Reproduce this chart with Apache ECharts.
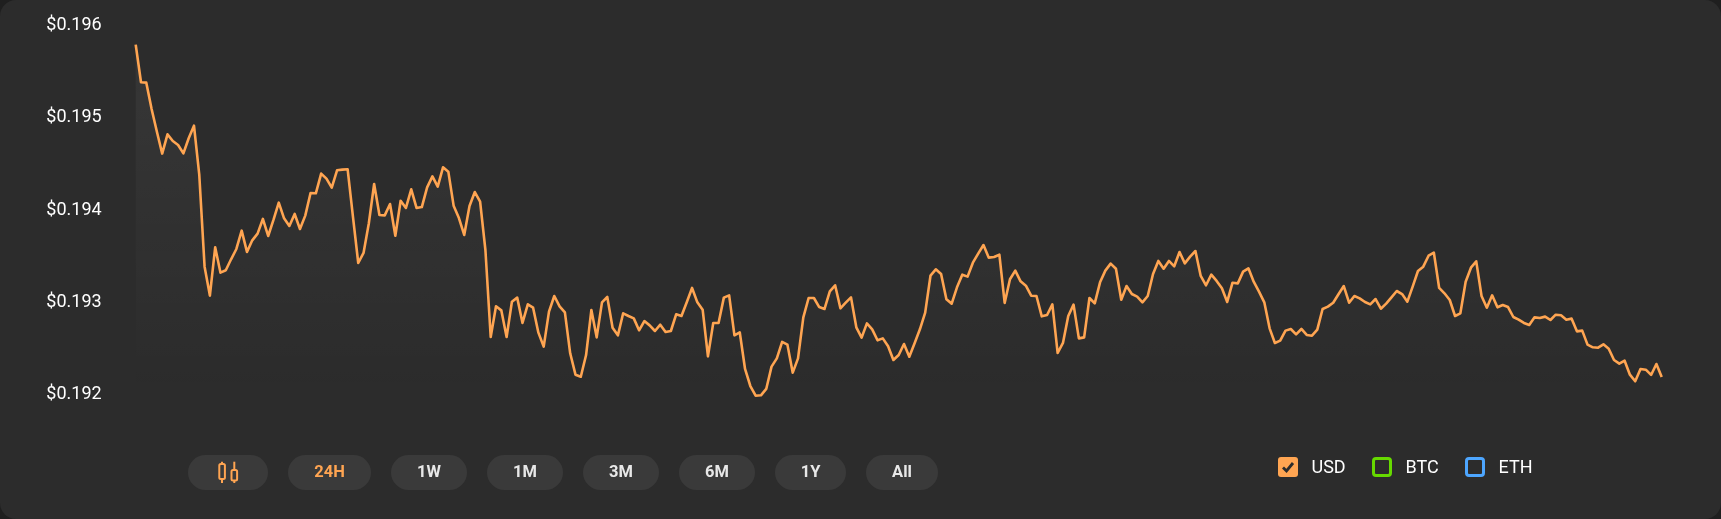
<!DOCTYPE html>
<html><head><meta charset="utf-8">
<style>
html,body{margin:0;padding:0;background:#1f1f1f;width:1721px;height:519px;overflow:hidden}
#c{width:1721px;height:519px;background:#2c2c2c;border-radius:16px;overflow:hidden}
</style>
<script src="https://cdn.jsdelivr.net/npm/echarts@6/dist/echarts.min.js"></script>
</head><body><div id="c"></div>
<script>
const pricesA = [195794,195386,195382,195096,194850,194612,194821,194749,194706,194615,194778,194915,194380,193385,193071,193595,193320,193346,193465,193577,193776,193545,193671,193743,193903,193718,193892,194080,193910,193827,193957,193794,193939,194185,194181,194395,194340,194243,194431,194438,194442,193928,193425,193534,193856,194282,193946,193942,194065];
const pricesB = [193721,194101,194022,194224,194022,194032,194246,194365,194253,194463,194416,194047,193913,193729,194043,194195,194090,193566,192622,192955,192911,192622,193005,193049,192774,192976,192940,192669,192517,192897,193067,192955,192889,192445,192213,192191,192426,192915,192618,192998,193056,192723,192640,192879,192850,192824,192694,192795];
const pricesC = [192748,192687,192756,192676,192687,192868,192850,192998,193154,192998,192918,192412,192774,192774,193049,193074,192640,192673,192275,192090,191985,191989,192058,192300,192390,192568,192539,192235,192390,192835,193045,193045,192947,192926,193117,193183,192933,192994,193052,192727,192615,192770,192705,192586,192607,192521,192372,192427];
const pricesD = [192546,192408,192553,192705,192886,193287,193356,193306,193031,192984,193161,193298,193277,193428,193526,193620,193483,193490,193515,192991,193248,193342,193226,193179,193070,193067,192846,192861,192976,192448,192557,192850,192973,192607,192618,193045,192987,193215,193342,193418,193363,193027,193175,193088,193060,192998,193067,193306];
const pricesE = [193447,193363,193447,193389,193544,193421,193494,193555,193284,193183,193298,193230,193150,193002,193211,193204,193331,193367,193222,193114,192998,192716,192557,192582,192691,192709,192651,192709,192644,192636,192702,192926,192951,192994,193085,193175,192994,193067,193041,193002,192976,193034,192929,192984,193052,193121,193088,193005];
const pricesF = [193168,193338,193385,193504,193537,193154,193096,193023,192850,192879,193222,193374,193443,193067,192940,193074,192944,192969,192947,192839,192810,192774,192752,192835,192828,192843,192806,192864,192857,192810,192821,192683,192691,192539,192510,192506,192542,192495,192372,192333,192365,192213,192141,192275,192267,192210,192329,192188];
const priceMicroUsd = [].concat(pricesA,pricesB,pricesC,pricesD,pricesE,pricesF);
const rangeButtons = ['24H','1W','1M','3M','6M','1Y','All'];
const legendItems = ['USD','BTC','ETH'];

const ORANGE='#ffa552', BTN='#3a3a3a', FF='Roboto, sans-serif';
const btnBoxes=[[288,371],[391,467],[487,563],[583,659],[679,755],[775,846],[866,938]];
const BY=455,BH=35;
const g=[];
g.push({type:'rect',shape:{x:188,y:BY,width:80,height:BH,r:17.5},style:{fill:BTN}});
[[222,461.7,483,219.3,464,5.6,15],[234.3,461.7,483,231.5,470,5.6,10.5]].forEach(a=>{
  g.push({type:'line',shape:{x1:a[0],y1:a[1],x2:a[0],y2:a[2]},style:{stroke:ORANGE,lineWidth:2}});
  g.push({type:'rect',shape:{x:a[3],y:a[4],width:a[5],height:a[6],r:1.5},style:{fill:BTN,stroke:ORANGE,lineWidth:2}});
});
rangeButtons.forEach((t,i)=>{
  const b=btnBoxes[i];
  g.push({type:'rect',shape:{x:b[0],y:BY,width:b[1]-b[0],height:BH,r:17.5},style:{fill:BTN}});
  g.push({type:'text',x:(b[0]+b[1])/2,y:BY+BH/2,style:{text:t,fill:i==0?ORANGE:'#e8e8e8',font:'700 16.5px '+FF,textAlign:'center',textVerticalAlign:'middle'}});
});
const legPos=[[1278,1311.5,ORANGE],[1372,1405.5,'#66d900'],[1465,1498.5,'#4da6ff']];
legendItems.forEach((t,i)=>{
  const p=legPos[i];
  if(i==0){
    g.push({type:'rect',shape:{x:p[0],y:457,width:20,height:20,r:3},style:{fill:p[2]}});
    g.push({type:'polyline',shape:{points:[[p[0]+5,467.5],[p[0]+8.5,471],[p[0]+15,463]]},style:{stroke:'#2c2c2c',lineWidth:2.8,fill:null}});
  } else {
    g.push({type:'rect',shape:{x:p[0]+1.5,y:458.5,width:17,height:17,r:2.5},style:{fill:'transparent',stroke:p[2],lineWidth:3}});
  }
  g.push({type:'text',x:p[1],y:468,style:{text:t,fill:'#ffffff',font:'400 18px '+FF,textAlign:'left',textVerticalAlign:'middle'}});
});

const chart=echarts.init(document.getElementById('c'),null,{renderer:'canvas'});
chart.setOption({
  animation:false,
  backgroundColor:'transparent',
  grid:{left:135.7,right:59.3,top:25.7,height:368.6,containLabel:false},
  xAxis:{type:'category',boundaryGap:false,data:priceMicroUsd.map((_,i)=>i),show:false},
  yAxis:{type:'value',min:0.192,max:0.196,interval:0.001,
    axisLine:{show:false},axisTick:{show:false},splitLine:{show:false},
    axisLabel:{color:'#ffffff',fontFamily:'Roboto',fontWeight:400,fontSize:18,margin:34,padding:[4,0,0,0],formatter:v=>'$'+v.toFixed(3)}},
  series:[{type:'line',clip:false,symbol:'none',smooth:false,
    data:priceMicroUsd.map(v=>v/1e6),
    lineStyle:{color:ORANGE,width:2.6,join:'round'},
    itemStyle:{color:ORANGE},
    areaStyle:{color:{type:'linear',x:0,y:0,x2:0,y2:1,colorStops:[{offset:0,color:'rgba(255,255,255,0.075)'},{offset:1,color:'rgba(255,255,255,0)'}]}}
  }],
  graphic:{elements:g}
});
</script></body></html>
